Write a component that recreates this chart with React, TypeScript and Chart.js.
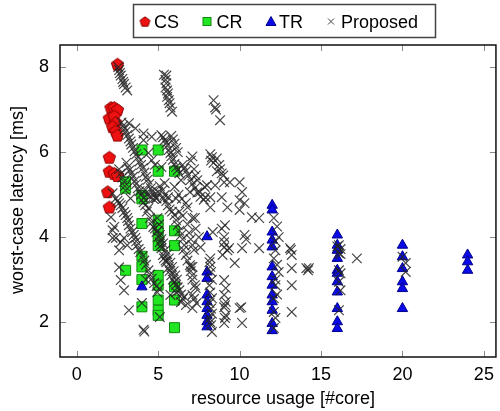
import React, { useEffect, useRef } from "react";
import { Chart, registerables } from "chart.js";

Chart.register(...registerables);

const FONT = '"Liberation Sans", Arial, Helvetica, sans-serif';

const xTicks = [0, 5, 10, 15, 20, 25];
const yTicks = [2, 4, 6, 8];
const legendLabels = ["CS", "CR", "TR", "Proposed"];
const xTitle = "resource usage [#core]";
const yTitle = "worst-case latency [ms]";

const csPoints: [number, number][] = [
  [2.5, 8.07],
  [2.1, 7.05], [2.3, 7.05], [2.5, 7.0], [2.0, 6.8], [2.3, 6.85], [2.4, 6.7],
  [2.2, 6.6], [2.4, 6.5], [2.5, 6.4],
  [2.0, 5.88], [2.0, 5.55], [2.3, 5.5], [2.5, 5.45], [1.9, 5.07], [2.0, 4.71],
];

const crPoints: [number, number][] = [
  [4, 6.05], [5, 6.05], [5, 5.55], [6, 5.55], [3, 5.3], [3, 5.15], [4, 4.98],
  [4, 4.9], [4, 4.32], [5, 4.4], [5, 4.2], [5, 4.0], [5, 3.8], [6, 4.15],
  [6, 3.8], [4, 3.55], [4, 3.3], [4, 3.0], [3, 3.22], [5, 3.1], [5, 2.87],
  [6, 2.83], [5, 2.52], [6, 2.52], [4, 2.36], [5, 2.28], [5, 2.16], [6, 1.87],
];

const trPoints: [number, number][] = [
  [4, 2.83],
  [8, 4.01], [8, 3.18], [8, 3.03], [8, 2.64], [8, 2.48], [8, 2.32], [8, 2.16], [8, 2.01], [8, 1.89],
  [12, 4.75], [12, 4.64], [12, 4.12], [12, 3.93], [12, 3.77], [12, 3.3], [12, 3.07], [12, 2.87],
  [12, 2.64], [12, 2.48], [12, 2.28], [12, 1.97], [12, 1.8],
  [16, 4.05], [16, 3.81], [16, 3.69], [16, 3.5], [16, 3.22], [16, 3.15], [16, 2.95], [16, 2.71],
  [16, 2.32], [16, 2.01], [16, 1.85],
  [20, 3.81], [20, 3.54], [20, 3.26], [20, 2.95], [20, 2.79], [20, 2.32],
  [24, 3.58], [24, 3.42], [24, 3.22],
];

const proposedPoints: [number, number][] = [
  [2.55, 8.0], [2.6, 7.93], [2.65, 7.86], [2.7, 7.8], [2.8, 7.72], [2.85, 7.65], [2.9, 7.6], [3.0, 7.52], [3.1, 7.45],
  [5.35, 7.82], [5.5, 7.8], [5.45, 7.7], [5.5, 7.62], [5.45, 7.52], [5.55, 7.45], [5.6, 7.38], [5.55, 7.3],
  [5.65, 7.22], [5.7, 7.15], [5.75, 7.05], [5.85, 6.95],
  [8.4, 7.22], [8.5, 7.05], [8.55, 7.0], [8.8, 6.75],
  [2.75, 6.7], [2.85, 6.62], [2.95, 6.55], [3.0, 6.48], [3.1, 6.4], [3.2, 6.32], [3.3, 6.25], [3.35, 6.18],
  [3.45, 6.1], [3.55, 6.02], [3.65, 5.95], [3.75, 5.88], [3.85, 5.78], [3.95, 5.7], [4.05, 5.62], [4.15, 5.52],
  [4.25, 5.42], [4.35, 5.35], [4.45, 5.25], [4.55, 5.15], [4.65, 5.08], [4.75, 5.0], [4.85, 4.92],
  [3.05, 5.75], [3.15, 5.65], [3.25, 5.58], [3.35, 5.5], [3.45, 5.42], [3.55, 5.32], [3.65, 5.25], [3.75, 5.15],
  [3.85, 5.08], [3.95, 5.0], [4.1, 4.92],
  [2.6, 5.6], [2.7, 5.5], [2.8, 5.4], [2.9, 5.3], [2.95, 5.2], [3.0, 5.1],
  [4.1, 6.28], [4.4, 5.98], [4.6, 5.81], [4.8, 5.7], [4.6, 6.36], [3.2, 6.68], [3.6, 6.56], [4.1, 6.44],
  [5.2, 6.4], [5.3, 6.35], [5.4, 6.28], [5.5, 6.22], [5.55, 6.15], [5.65, 6.05], [5.75, 5.98], [5.8, 5.9],
  [5.9, 5.82], [6.0, 5.72], [6.1, 5.65], [6.2, 5.58], [6.3, 5.5],
  [5.8, 6.38], [5.9, 6.3], [6.0, 6.2], [6.1, 6.1], [6.2, 6.0],
  [7.0, 5.8], [6.5, 5.7], [6.6, 5.62], [6.7, 5.55], [6.85, 5.45], [7.0, 5.35], [7.1, 5.25], [7.25, 5.15],
  [7.4, 5.05], [7.6, 4.95], [7.8, 4.88],
  [5.2, 5.65], [5.4, 5.27], [5.0, 5.06], [5.6, 4.94], [6.0, 5.18], [6.4, 5.34], [6.95, 5.06], [7.4, 5.34],
  [7.85, 5.18], [7.9, 4.94],
  [8.2, 5.95], [8.3, 5.88], [8.25, 5.8], [8.4, 5.75], [8.6, 5.85], [8.75, 5.7], [8.8, 5.6], [8.6, 5.55],
  [8.9, 5.5], [9.0, 5.45],
  [8.0, 5.22], [8.5, 5.22], [9.05, 5.29], [9.4, 5.29], [10.0, 5.29], [10.15, 5.06], [7.55, 5.06], [8.2, 4.94],
  [8.9, 4.94], [10.0, 4.87], [10.3, 4.8], [9.25, 4.7], [8.2, 4.7], [10.0, 4.64], [10.75, 4.47], [11.2, 4.45],
  [7.25, 4.45], [7.1, 5.9], [7.2, 5.6], [7.3, 5.45],
  [8.35, 4.12], [9.1, 4.28], [9.05, 4.0], [10.3, 4.05], [9.35, 3.74], [9.05, 3.76], [10.15, 3.74], [11.2, 3.74],
  [7.6, 3.76], [7.1, 3.81], [8.2, 3.5], [8.95, 3.58], [9.7, 3.39], [7.1, 3.3],
  [9.05, 3.88], [9.25, 3.69], [10.4, 3.95], [8.9, 4.2],
  [8.15, 3.41], [8.25, 3.18], [8.15, 2.87], [8.3, 2.56], [8.25, 2.32], [8.15, 2.09], [8.25, 1.93], [8.3, 1.77],
  [8.2, 3.3], [8.3, 3.0], [8.2, 2.7], [8.15, 2.45], [8.3, 2.2], [8.2, 2.0],
  [9.05, 2.99], [9.15, 2.8], [9.05, 2.64], [9.15, 2.48], [9.05, 2.35], [9.15, 2.16], [9.05, 1.98], [9.1, 2.1], [9.1, 2.4],
  [10.0, 2.33], [10.15, 1.98], [10.1, 2.35],
  [12.1, 4.45], [12.4, 4.0], [12.2, 3.69], [12.1, 3.5], [12.4, 3.18], [12.2, 2.87], [12.1, 2.56], [12.1, 2.24],
  [12.1, 1.86], [12.3, 4.25], [12.2, 3.9], [12.3, 3.35], [12.2, 3.0], [12.3, 2.65], [12.2, 2.1],
  [13.1, 3.74], [13.2, 3.58], [13.2, 3.27], [13.2, 2.87], [13.2, 2.24], [13.15, 3.7],
  [14.1, 3.27], [14.25, 3.27], [14.2, 3.22],
  [16.1, 3.81], [16.1, 3.62], [16.2, 3.72], [16.0, 3.78], [16.1, 3.22], [16.2, 3.15], [16.1, 2.95], [16.2, 2.75],
  [16.1, 2.28], [16.2, 3.6],
  [17.2, 3.5],
  [20.0, 3.54], [20.2, 3.39], [20.2, 3.18],
  [2.4, 4.91], [2.7, 4.75], [2.9, 4.59], [3.1, 4.45], [3.2, 4.28], [3.4, 4.12], [3.6, 3.98], [3.7, 3.81], [3.9, 3.65],
  [2.3, 4.24], [2.2, 3.98], [2.7, 3.88], [2.6, 3.29], [2.7, 2.99], [2.9, 2.75], [3.2, 2.28],
  [4.0, 2.45], [4.1, 1.82], [4.15, 1.78], [5.1, 2.12],
  [4.1, 4.82], [4.4, 4.68], [4.5, 4.45], [4.7, 4.24], [4.9, 4.12], [5.1, 3.88], [5.2, 3.74], [5.3, 3.58],
  [5.5, 3.41], [5.6, 3.27], [5.8, 3.1], [6.0, 2.94], [6.2, 2.82],
  [5.4, 4.99], [5.6, 4.75], [6.0, 4.52], [6.2, 4.28], [6.4, 4.05], [6.6, 3.81], [6.7, 3.58], [6.95, 3.34],
  [7.1, 3.1], [7.25, 2.87], [7.1, 2.64], [6.7, 2.4], [7.1, 2.33],
  [3.3, 4.91], [4.9, 4.91], [6.1, 4.91], [6.7, 4.8], [7.1, 4.45], [3.1, 3.81],
  [2.2, 5.03], [2.1, 4.47], [2.2, 4.16], [2.4, 3.98], [2.9, 3.98], [2.6, 3.69],
  [4.2, 4.75], [4.3, 4.6], [4.6, 4.35], [4.8, 4.2], [5.0, 4.0], [5.15, 3.8], [5.35, 3.5], [5.45, 3.45],
  [5.7, 3.2], [5.9, 3.0], [6.1, 2.88], [6.3, 2.75], [6.4, 2.65], [6.5, 2.55],
  [4.95, 4.45], [5.05, 4.3], [5.0, 4.15], [5.1, 4.05], [5.2, 3.95], [5.3, 3.85], [5.45, 3.7], [5.55, 3.6],
  [5.65, 3.5], [5.75, 3.4], [5.85, 3.3], [5.95, 3.2], [6.05, 3.1], [6.15, 3.0],
  [2.5, 4.85], [2.6, 4.8], [2.8, 4.68], [3.0, 4.52], [3.15, 4.38], [3.3, 4.2], [3.5, 4.05], [3.65, 3.9], [3.8, 3.72],
  [4.05, 3.55], [4.15, 3.45], [4.25, 3.35], [4.4, 3.22], [4.5, 3.12], [4.6, 3.02], [4.75, 2.92], [4.9, 2.85],
  [5.05, 2.78], [4.25, 3.0], [4.95, 2.7],
  [7.0, 3.3], [7.1, 3.0], [7.3, 2.8], [7.2, 2.55], [7.35, 2.45],
  [5.75, 2.64], [6.4, 2.47], [6.6, 2.6], [6.1, 2.7],
  [5.5, 4.85], [5.7, 4.65], [5.85, 4.6], [6.1, 4.4], [6.3, 4.15], [6.5, 3.95], [6.55, 3.7], [6.8, 3.45], [7.0, 3.2],
  [6.3, 4.6], [6.5, 4.5], [6.8, 4.3], [6.9, 4.1], [7.0, 3.95], [7.2, 3.7], [6.25, 5.0], [6.45, 4.9], [6.8, 4.7],
  [7.3, 4.2], [7.5, 4.0],
  [4.3, 5.0], [4.5, 4.95], [4.2, 5.1], [5.1, 5.2], [5.25, 5.1], [5.3, 4.9], [4.7, 4.9],
];

const CS_FILL = "#ee1111";
const CS_EDGE = "#8a0000";
const CR_FILL = "#22e622";
const CR_EDGE = "#118811";
const TR_FILL = "#0a0ae6";
const TR_EDGE = "#00008c";
const PR_EDGE = "rgba(38,38,38,0.85)";

function makePentagon(r: number): HTMLCanvasElement {
  const size = Math.ceil(2 * r + 4);
  const c = document.createElement("canvas");
  c.width = size;
  c.height = size;
  const ctx = c.getContext("2d")!;
  const cx = size / 2;
  const cy = size / 2 + r * 0.095;
  ctx.beginPath();
  for (let i = 0; i < 5; i++) {
    const a = -Math.PI / 2 + (i * 2 * Math.PI) / 5;
    const px = cx + r * Math.cos(a);
    const py = cy + r * Math.sin(a);
    if (i === 0) ctx.moveTo(px, py);
    else ctx.lineTo(px, py);
  }
  ctx.closePath();
  ctx.fillStyle = CS_FILL;
  ctx.fill();
  ctx.lineWidth = 1;
  ctx.strokeStyle = CS_EDGE;
  ctx.stroke();
  return c;
}

const toXY = (pts: [number, number][]) => pts.map(([x, y]) => ({ x, y }));

export default function App() {
  const canvasRef = useRef<HTMLCanvasElement | null>(null);

  useEffect(() => {
    document.body.style.margin = "0";
    const canvas = canvasRef.current;
    if (!canvas) return;
    const pent = makePentagon(6.5);
    const pentSmall = makePentagon(5.2);

    const decorPlugin = {
      id: "decor",
      beforeDatasetsDraw(chart: any) {
        const { ctx, chartArea: a, scales } = chart;
        ctx.save();
        ctx.strokeStyle = "#8a8a8a";
        ctx.lineWidth = 1;
        const tl = 6;
        xTicks.forEach((v) => {
          const px = Math.round(scales.x.getPixelForValue(v)) + 0.5;
          ctx.beginPath();
          ctx.moveTo(px, a.bottom);
          ctx.lineTo(px, a.bottom - tl);
          ctx.moveTo(px, a.top);
          ctx.lineTo(px, a.top + tl);
          ctx.stroke();
        });
        yTicks.forEach((v) => {
          const py = Math.round(scales.y.getPixelForValue(v)) + 0.5;
          ctx.beginPath();
          ctx.moveTo(a.left, py);
          ctx.lineTo(a.left + tl, py);
          ctx.moveTo(a.right, py);
          ctx.lineTo(a.right - tl, py);
          ctx.stroke();
        });
        ctx.strokeStyle = "#111";
        ctx.lineWidth = 1.5;
        ctx.strokeRect(a.left, a.top, a.right - a.left, a.bottom - a.top);
        ctx.restore();
      },
      afterDraw(chart: any) {
        const { ctx } = chart;
        ctx.save();
        ctx.fillStyle = "#000";
        ctx.font = `18px ${FONT}`;
        ctx.textAlign = "center";
        ctx.textBaseline = "middle";
        ctx.fillText(xTitle, 283, 399);
        ctx.save();
        ctx.translate(18, 200);
        ctx.rotate(-Math.PI / 2);
        ctx.fillText(yTitle, 0, 0);
        ctx.restore();

        // legend
        ctx.fillStyle = "#fff";
        ctx.fillRect(133.5, 4.5, 302, 33);
        ctx.strokeStyle = "#444";
        ctx.lineWidth = 1.5;
        ctx.strokeRect(133.5, 4.5, 302, 33);
        const cy = 21.5;
        ctx.drawImage(pentSmall, 145 - pentSmall.width / 2, cy - pentSmall.height / 2);
        ctx.fillStyle = CR_FILL;
        ctx.strokeStyle = CR_EDGE;
        ctx.lineWidth = 1;
        ctx.fillRect(203, cy - 4, 8, 8);
        ctx.strokeRect(203, cy - 4, 8, 8);
        ctx.beginPath();
        ctx.moveTo(271, cy - 5);
        ctx.lineTo(276, cy + 4);
        ctx.lineTo(266, cy + 4);
        ctx.closePath();
        ctx.fillStyle = TR_FILL;
        ctx.fill();
        ctx.strokeStyle = TR_EDGE;
        ctx.stroke();
        ctx.beginPath();
        ctx.strokeStyle = "#444";
        ctx.moveTo(328, cy - 3);
        ctx.lineTo(334, cy + 3);
        ctx.moveTo(334, cy - 3);
        ctx.lineTo(328, cy + 3);
        ctx.stroke();
        ctx.fillStyle = "#000";
        ctx.textAlign = "left";
        ctx.textBaseline = "alphabetic";
        const tx = [154, 216.5, 279, 341];
        legendLabels.forEach((t, i) => ctx.fillText(t, tx[i], 28));
        ctx.restore();
      },
    };

    const tickFont = { family: FONT, size: 18 };
    const chart = new Chart(canvas, {
      type: "scatter",
      data: {
        datasets: [
          {
            label: legendLabels[0],
            data: toXY(csPoints),
            pointStyle: pent as any,
            pointRadius: 6,
            order: 3,
          },
          {
            label: legendLabels[1],
            data: toXY(crPoints),
            pointStyle: "rect",
            pointRadius: 7.07,
            backgroundColor: CR_FILL,
            borderColor: CR_EDGE,
            borderWidth: 1,
            order: 2,
          },
          {
            label: legendLabels[2],
            data: toXY(trPoints),
            pointStyle: "triangle",
            pointRadius: 6,
            backgroundColor: TR_FILL,
            borderColor: TR_EDGE,
            borderWidth: 1,
            order: 1,
          },
          {
            label: legendLabels[3],
            data: toXY(proposedPoints),
            pointStyle: "crossRot",
            pointRadius: 6.8,
            borderColor: PR_EDGE,
            borderWidth: 1.2,
            order: 0,
          },
        ],
      },
      options: {
        responsive: false,
        maintainAspectRatio: false,
        animation: false,
        layout: { padding: { top: 45, right: 1, left: 0, bottom: 0 } },
        plugins: { legend: { display: false }, tooltip: { enabled: false } },
        scales: {
          x: {
            type: "linear",
            min: -1.03,
            max: 25.74,
            afterBuildTicks: (s: any) => {
              s.ticks = xTicks.map((v) => ({ value: v }));
            },
            afterFit: (s: any) => {
              s.height = 54;
            },
            grid: { display: false, drawTicks: false },
            border: { display: false },
            ticks: { font: tickFont, color: "#000", padding: 7, maxRotation: 0, autoSkip: false },
          },
          y: {
            type: "linear",
            min: 1.18,
            max: 8.52,
            afterBuildTicks: (s: any) => {
              s.ticks = yTicks.map((v) => ({ value: v }));
            },
            afterFit: (s: any) => {
              s.width = 60;
            },
            grid: { display: false, drawTicks: false },
            border: { display: false },
            ticks: { font: tickFont, color: "#000", padding: 11, autoSkip: false },
          },
        },
      },
      plugins: [decorPlugin],
    });
    return () => chart.destroy();
  }, []);

  return (
    <div style={{ width: 500, height: 411, overflow: "hidden", background: "#fff" }}>
      <canvas ref={canvasRef} width={504} height={411} style={{ display: "block" }} />
    </div>
  );
}
